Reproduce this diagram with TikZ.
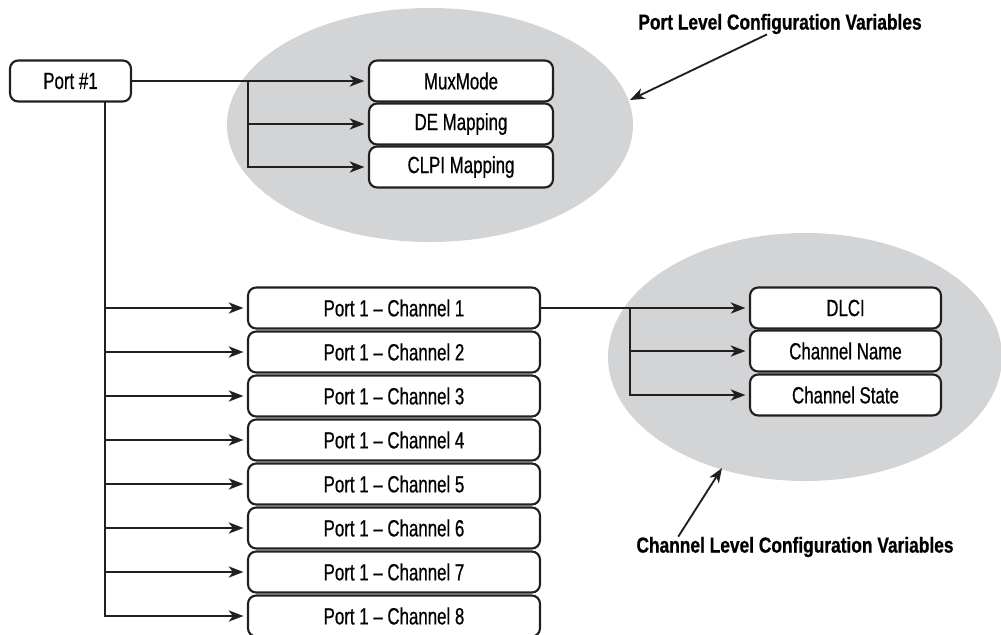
\documentclass[tikz,border=0pt]{standalone}
\usepackage{fontspec}
\setmainfont{Liberation Sans}[FakeStretch=0.72,FakeBold=0.6,BoldFeatures={FakeStretch=0.8,FakeBold=0.8}]
\usepackage{tikz}
\usetikzlibrary{arrows.meta,calc}

\definecolor{blobgray}{RGB}{211,212,214}
\definecolor{inkblack}{RGB}{35,31,32}

\tikzset{
  varbox/.style={draw=inkblack,line width=1.8pt,rounded corners=7pt,fill=white,
    minimum width={#1*0.03cm},minimum height={41*0.03cm},inner sep=0pt,
    font=\fontsize{20}{22}\selectfont},
  note/.style={inner sep=0pt,font=\bfseries\fontsize{18.5}{21}\selectfont},
  conn/.style={draw=inkblack,line width=1.8pt},
  arr/.style={conn,-{Stealth[length=12.5pt,width=9.5pt,inset=3.5pt]},shorten >=3pt},
  ptr/.style={conn,line width=1.6pt,-{Stealth[length=12.5pt,width=9.5pt,inset=3.5pt]}}
}

\begin{document}
\begin{tikzpicture}[x=0.03cm,y=-0.03cm]
\useasboundingbox (0,0) rectangle (1001,634);
% grey groups
\fill[blobgray] (430,125) ellipse [x radius=203,y radius=117];
\fill[blobgray] (805,357) ellipse [x radius=197,y radius=124];

% port and its variables
\node[varbox=121] (port) at (70.5,81) {Port \#1};
\node[varbox=184] (mux) at (461,81) {MuxMode};
\node[varbox=184] (dem) at (461,124) {DE Mapping};
\node[varbox=184] (clpi) at (461,167) {CLPI Mapping};

% channels
\foreach \i in {1,...,8}
  \node[varbox=292] (ch\i) at (394,{308+44*(\i-1)}) {Port 1 -- Channel \i};

% channel variables
\node[varbox=191] (dlci) at (845.5,308) {DLCI};
\node[varbox=191] (cname) at (845.5,351) {Channel Name};
\node[varbox=191] (cstate) at (845.5,395) {Channel State};

% connectors
\coordinate (pfork) at (248,81);
\draw[arr] (port) -- (mux);
\draw[arr] (pfork) |- (dem.west);
\draw[arr] (pfork) |- (clpi.west);

\coordinate (trunk) at (105,101);
\foreach \i in {1,...,8}
  \draw[arr] (trunk) |- (ch\i.west);

\coordinate (cfork) at (630,308);
\draw[arr] (ch1) -- (dlci);
\draw[arr] (cfork) |- (cname.west);
\draw[arr] (cfork) |- (cstate.west);

% labels
\node[note] (plabel) at (780,24) {Port Level Configuration Variables};
\coordinate (ptip) at (630,100);
\draw[ptr] ($(plabel.south)+(-13,0)$) -- (ptip);

\node[note] (clabel) at (795,547) {Channel Level Configuration Variables};
\coordinate (ctip) at (722,468);
\draw[ptr] ($(clabel.north west)+(42,0)$) -- (ctip);
\end{tikzpicture}
\end{document}
